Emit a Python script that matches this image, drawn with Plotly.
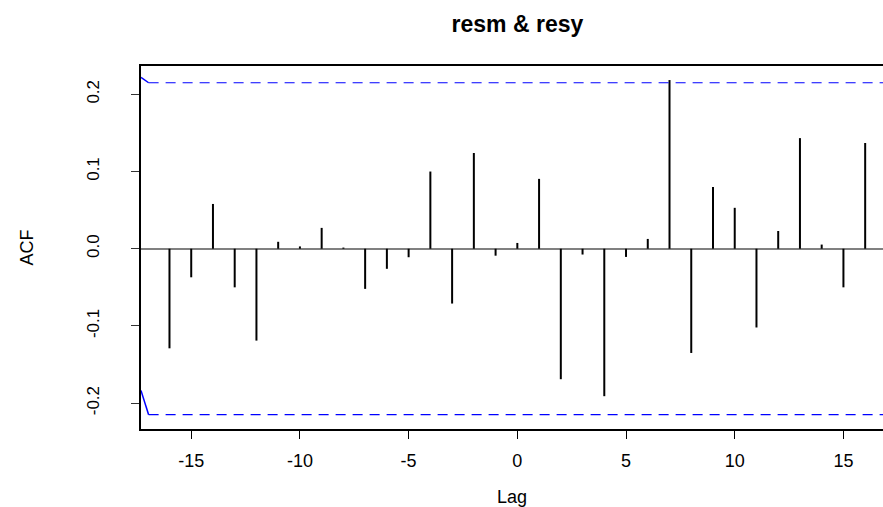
import plotly.graph_objects as go

# Data (cross-correlation of resm & resy)
lags = list(range(-16, 17))
acf_values = [-0.129, -0.037, 0.058, -0.050, -0.119, 0.009, 0.003, 0.027, 0.0015,
              -0.052, -0.026, -0.011, 0.100, -0.071, 0.124, -0.009,
              0.0075, 0.0905, -0.169, -0.0075, -0.191, -0.0106, 0.0127, 0.2185,
              -0.135, 0.080, 0.053, -0.102, 0.023, 0.1433, 0.0054, -0.050, 0.137]
ci_level = 0.215
ci_start_x = [-17.31, -16.96]
ci_start_upper = [0.222, 0.215]
ci_start_lower = [-0.1835, -0.215]
x_tick_vals = [-15, -10, -5, 0, 5, 10, 15]
x_tick_text = ["-15", "-10", "-5", "0", "5", "10", "15"]
y_tick_vals = [-0.2, -0.1, 0.0, 0.1, 0.2]
y_tick_text = ["-0.2", "-0.1", "0.0", "0.1", "0.2"]
x_range = [-17.31, 16.82]
y_range = [-0.2335, 0.2367]

FONT = "Liberation Sans, Arial, Helvetica, sans-serif"

# stems
sx, sy = [], []
for l, v in zip(lags, acf_values):
    sx += [l, l, None]
    sy += [0, v, None]

fig = go.Figure()
fig.add_trace(go.Scatter(x=sx, y=sy, mode="lines",
                         line=dict(color="black", width=2), hoverinfo="skip"))
for sign in (1, -1):
    fig.add_trace(go.Scatter(x=[ci_start_x[1], x_range[1]], y=[sign * ci_level] * 2,
                             mode="lines", line=dict(color="#0000FF", width=1.2, dash="10px,7px"),
                             hoverinfo="skip"))
fig.add_trace(go.Scatter(x=ci_start_x, y=ci_start_upper, mode="lines",
                         line=dict(color="#0000FF", width=1.5), hoverinfo="skip"))
fig.add_trace(go.Scatter(x=ci_start_x, y=ci_start_lower, mode="lines",
                         line=dict(color="#0000FF", width=1.5), hoverinfo="skip"))

fig.update_layout(
    width=883, height=507,
    margin=dict(l=141, r=0, t=66, b=78),
    plot_bgcolor="white", paper_bgcolor="white",
    showlegend=False,
    font=dict(family=FONT, color="black"),
    title=dict(text="<b>resm &amp; resy</b>", x=0.586, xanchor="center",
               y=0.953, yanchor="middle", font=dict(size=23, family=FONT, color="black")),
    xaxis=dict(range=x_range, tickvals=x_tick_vals, ticktext=x_tick_text,
               showgrid=False, zeroline=False, showline=True, mirror=True,
               linecolor="black", linewidth=1.5, ticks="outside", ticklen=8,
               tickcolor="black", tickwidth=1, tickfont=dict(size=18, color="black"),
               ticklabelstandoff=7,
               title=dict(text="Lag", font=dict(size=18, color="black"), standoff=20)),
    yaxis=dict(range=y_range, tickvals=y_tick_vals, ticktext=y_tick_text,
               showgrid=False, zeroline=True, zerolinecolor="#808080", zerolinewidth=1.5,
               showline=True, linecolor="black", linewidth=2,
               ticks="outside", ticklen=8, tickcolor="#333333", tickwidth=1,
               tickangle=-90, tickfont=dict(size=17, color="black"), ticklabelstandoff=25,
               title=dict(text="ACF", font=dict(size=18, color="black"), standoff=46)),
)

fig.write_html("out.html")
